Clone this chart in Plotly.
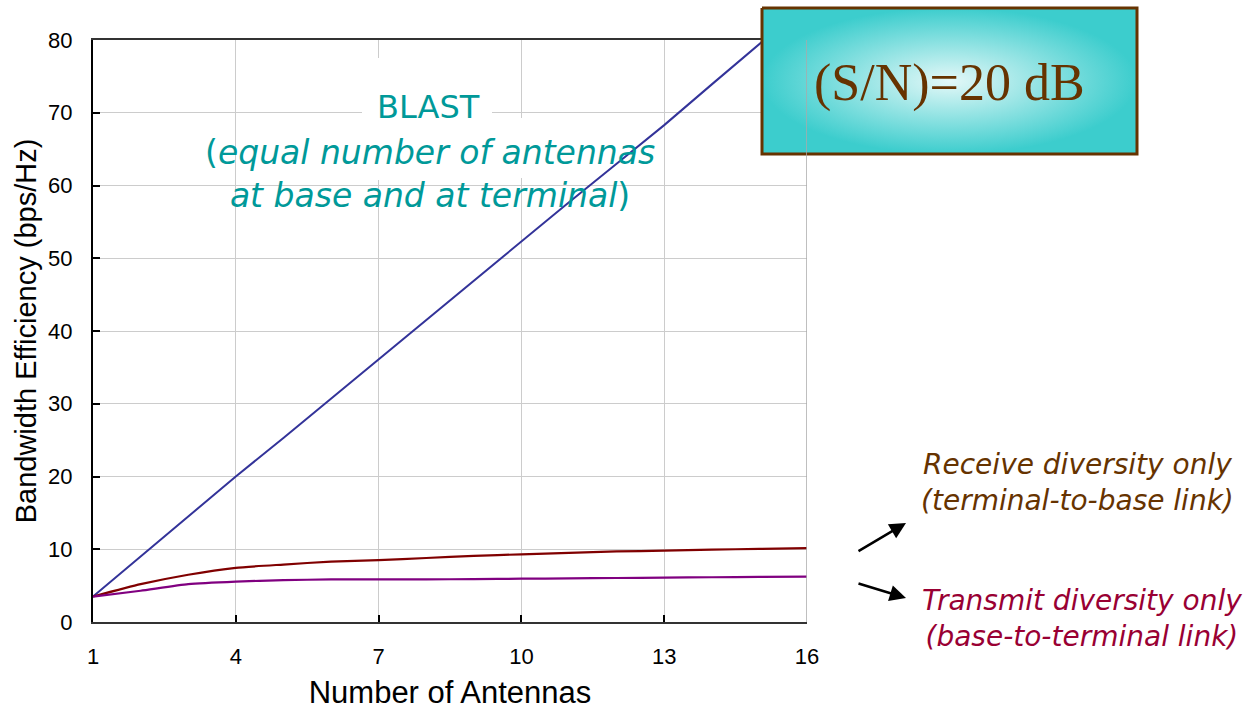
import plotly.graph_objects as go

# ---- data ----
antennas = list(range(1, 17))
blast = [3.5, 9.0, 14.5, 20.0, 25.3, 30.7, 36.1, 41.5, 46.9, 52.4, 57.7, 63.0, 68.3, 73.9, 79.5, 85.0]
receive_div = [3.5, 5.2, 6.5, 7.45, 7.9, 8.3, 8.5, 8.8, 9.1, 9.3, 9.5, 9.7, 9.8, 9.95, 10.05, 10.15]
transmit_div = [3.5, 4.3, 5.2, 5.55, 5.75, 5.85, 5.85, 5.85, 5.9, 5.95, 6.0, 6.05, 6.1, 6.15, 6.2, 6.25]
x_ticks = [1, 4, 7, 10, 13, 16]
y_ticks = [0, 10, 20, 30, 40, 50, 60, 70, 80]

W, H = 1256, 710
L, R, T, B = 93, 807, 40, 622  # plot area in px

fig = go.Figure()
fig.add_trace(go.Scatter(x=antennas, y=blast, mode="lines",
                         line=dict(color="#333399", width=2), xaxis="x", yaxis="y"))
fig.add_trace(go.Scatter(x=antennas, y=receive_div, mode="lines",
                         line=dict(color="#800000", width=2.2, shape="spline", smoothing=0.5),
                         xaxis="x", yaxis="y"))
fig.add_trace(go.Scatter(x=antennas, y=transmit_div, mode="lines",
                         line=dict(color="#800080", width=2.2, shape="spline", smoothing=0.5),
                         xaxis="x", yaxis="y"))

# S/N box with radial gradient (pixel-coordinate overlay axes)
fig.add_trace(go.Scatter(x=[762, 1137, 1137, 762, 762], y=[8, 8, 154, 154, 8],
                         mode="lines", fill="toself",
                         fillgradient=dict(type="radial",
                                           colorscale=[[0, "#E4F8F8"], [1, "#3CCDCD"]]),
                         line=dict(color="#663300", width=3),
                         xaxis="x2", yaxis="y2", hoverinfo="skip"))

axis_font = dict(family="Liberation Sans, Arial, sans-serif", size=22, color="black")
fig.update_layout(
    width=W, height=H,
    margin=dict(l=0, r=0, t=0, b=0),
    paper_bgcolor="white", plot_bgcolor="rgba(0,0,0,0)",
    showlegend=False,
    xaxis=dict(domain=[L / W, R / W], range=[1, 16], tickvals=x_ticks,
               ticks="inside", ticklen=7, tickwidth=1.5, tickcolor="black",
               showline=True, linecolor="#333333", linewidth=2, mirror=True,
               showgrid=True, gridcolor="#CCCCCC", gridwidth=1,
               tickfont=axis_font, ticklabelstandoff=14, zeroline=False,
               automargin=False,
               title=dict(text="Number of Antennas", standoff=14,
                          font=dict(family="Liberation Sans, Arial, sans-serif", size=31, color="black"))),
    yaxis=dict(domain=[(H - B) / H, (H - T) / H], range=[0, 80], tickvals=y_ticks,
               ticks="inside", ticklen=7, tickwidth=1.5, tickcolor="black",
               showline=True, linecolor="black", linewidth=2,
               showgrid=True, gridcolor="#CCCCCC", gridwidth=1,
               tickfont=axis_font, ticklabelstandoff=14, zeroline=False,
               automargin=False,
               title=dict(text="Bandwidth Efficiency (bps/Hz)", standoff=3,
                          font=dict(family="Liberation Sans, Arial, sans-serif", size=29, color="black"))),
    xaxis2=dict(domain=[0, 1], range=[0, W], visible=False, anchor="y2", fixedrange=True),
    yaxis2=dict(domain=[0, 1], range=[H, 0], visible=False, anchor="x2", fixedrange=True),
)

# right border line at x=16 in gray
fig.add_shape(type="line", xref="x", yref="y", x0=16, x1=16, y0=0, y1=80,
              line=dict(color="#AAAAAA", width=1.5))

# white patches behind BLAST text (hide gridlines, keep data lines)
for x0, x1, y0, y1 in [(362, 492, 60, 128), (370, 386, 58, 180), (513, 529, 118, 178)]:
    fig.add_shape(type="rect", xref="x2", yref="y2", x0=x0, x1=x1, y0=y0, y1=y1,
                  fillcolor="white", line=dict(width=0), layer="between")

teal = "#009999"
txt_font = "DejaVu Sans, Verdana, sans-serif"
fig.add_annotation(xref="x2", yref="y2", x=428, y=107, text="BLAST", showarrow=False,
                   font=dict(family=txt_font, size=32, color=teal))
fig.add_annotation(xref="x2", yref="y2", x=430, y=174,
                   text="(<i>equal number of antennas</i><br><i>at base and at terminal</i>)",
                   showarrow=False, align="center",
                   font=dict(family=txt_font, size=33, color=teal))

fig.add_annotation(xref="x2", yref="y2", x=949, y=83, text="(S/N)=20 dB", showarrow=False,
                   font=dict(family="Liberation Serif, Times New Roman, serif", size=52, color="#663300"))

fig.add_annotation(xref="x2", yref="y2", x=1077, y=482,
                   text="<i>Receive diversity only</i><br><i>(terminal-to-base link)</i>",
                   showarrow=False, align="center",
                   font=dict(family=txt_font, size=28, color="#663300"))
fig.add_annotation(xref="x2", yref="y2", x=1082, y=618,
                   text="<i>Transmit diversity only</i><br><i>(base-to-terminal link)</i>",
                   showarrow=False, align="center",
                   font=dict(family=txt_font, size=28, color="#990033"))

# arrows
for (tx, ty, hx, hy) in [(857, 552, 906, 523), (857, 583, 906, 598)]:
    fig.add_annotation(xref="x2", yref="y2", axref="x2", ayref="y2",
                       x=hx, y=hy, ax=tx, ay=ty, text="", showarrow=True,
                       arrowhead=2, arrowsize=1.3, arrowwidth=2.5, arrowcolor="black",
                       standoff=0, startstandoff=0)

fig.write_html("out.html", config={"displayModeBar": False},
               post_script="document.body.style.margin='0px';document.body.style.overflow='hidden';")
